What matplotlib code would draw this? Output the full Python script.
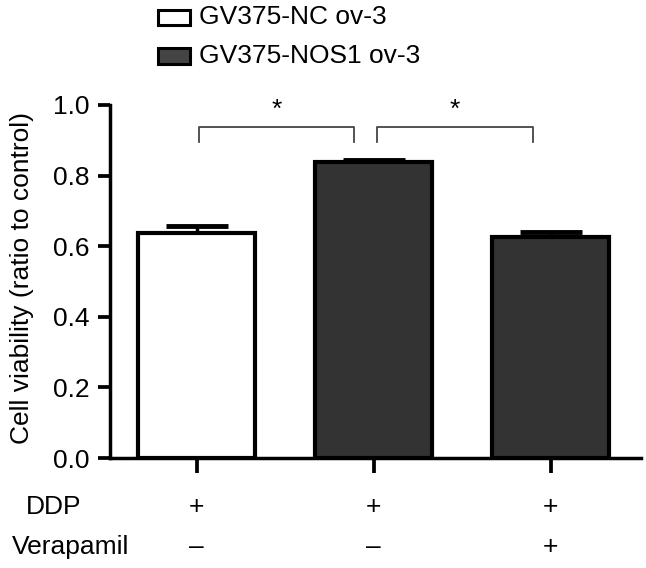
import numpy as np
import matplotlib
matplotlib.use("Agg")
from matplotlib import pyplot as plt
from matplotlib.patches import Rectangle

plt.rcParams['font.family'] = ['Liberation Sans', 'DejaVu Sans']

# data
groups = ["GV375-NC ov-3", "GV375-NOS1 ov-3"]
viability = [0.636, 0.838, 0.625]
sem = [0.022, 0.005, 0.016]
bar_colors = ["white", "#333333", "#333333"]
legend_colors = ["white", "#444444"]
ddp_signs = ["+", "+", "+"]
verapamil_signs = ["\u2013", "\u2013", "+"]
comparisons = [(0, 1, "*"), (1, 2, "*")]

W, H = 646, 568
FS = 19
fig = plt.figure(figsize=(W / 100, H / 100), dpi=100)
ax = fig.add_axes([110 / W, 1 - 458 / H, 531 / W, 353 / H])

x = np.arange(len(viability))
ax.bar(x, viability, width=0.66, color=bar_colors, edgecolor="black", linewidth=3, zorder=2)
ax.errorbar(x, viability, yerr=[np.zeros(3), sem], fmt="none", ecolor="black",
            elinewidth=2.5, capsize=22, capthick=3.5, zorder=1)

ax.set_xlim(-0.49, 2.51)
ax.set_ylim(0, 1.0)
ax.set_yticks([0.0, 0.2, 0.4, 0.6, 0.8, 1.0])
ax.set_yticklabels(["0.0", "0.2", "0.4", "0.6", "0.8", "1.0"])
ax.set_xticks(x)
ax.set_xticklabels([])
for side in ["top", "right"]:
    ax.spines[side].set_visible(False)
for side in ["left", "bottom"]:
    ax.spines[side].set_linewidth(2.5)
ax.tick_params(axis="both", width=2.7, length=9, labelsize=FS, pad=6)
ax.tick_params(axis="x", length=11)
ax.set_ylabel("Cell viability (ratio to control)", fontsize=FS)
ax.yaxis.set_label_coords(-(110 - 34) / 531, 0.51)

# significance brackets
for i, j, star in comparisons:
    x0 = i + 0.01 if i == 0 else i + 0.02
    x1 = j - 0.11 if i == 0 else j - 0.1
    ax.plot([x0, x0, x1, x1], [0.895, 0.938, 0.938, 0.895], color="#444444",
            linewidth=1.3, clip_on=False)
    ax.text((x0 + x1) / 2, 0.985, star, ha="center", va="center", fontsize=FS, clip_on=False)

# treatment rows under the axis
trans = ax.get_xaxis_transform()
for xi, s in zip(x, ddp_signs):
    ax.text(xi, -(507 - 458) / 353, s, transform=trans, ha="center", va="center", fontsize=FS)
for xi, s in zip(x, verapamil_signs):
    ax.text(xi, -(547 - 458) / 353, s, transform=trans, ha="center", va="center", fontsize=FS)
fig.text(26 / W, 1 - 507 / H, "DDP", ha="left", va="center", fontsize=FS)
fig.text(12 / W, 1 - 547 / H, "Verapamil", ha="left", va="center", fontsize=FS)

# legend
for k, (label, col) in enumerate(zip(groups, legend_colors)):
    yc = 17.5 + 38.5 * k
    fig.add_artist(Rectangle((158 / W, 1 - (yc + 7.5) / H), 32 / W, 15 / H,
                             facecolor=col, edgecolor="black", linewidth=2.2,
                             transform=fig.transFigure))
    fig.text(199 / W, 1 - yc / H, label, ha="left", va="center", fontsize=FS)

fig.savefig("out.png", dpi=100)
